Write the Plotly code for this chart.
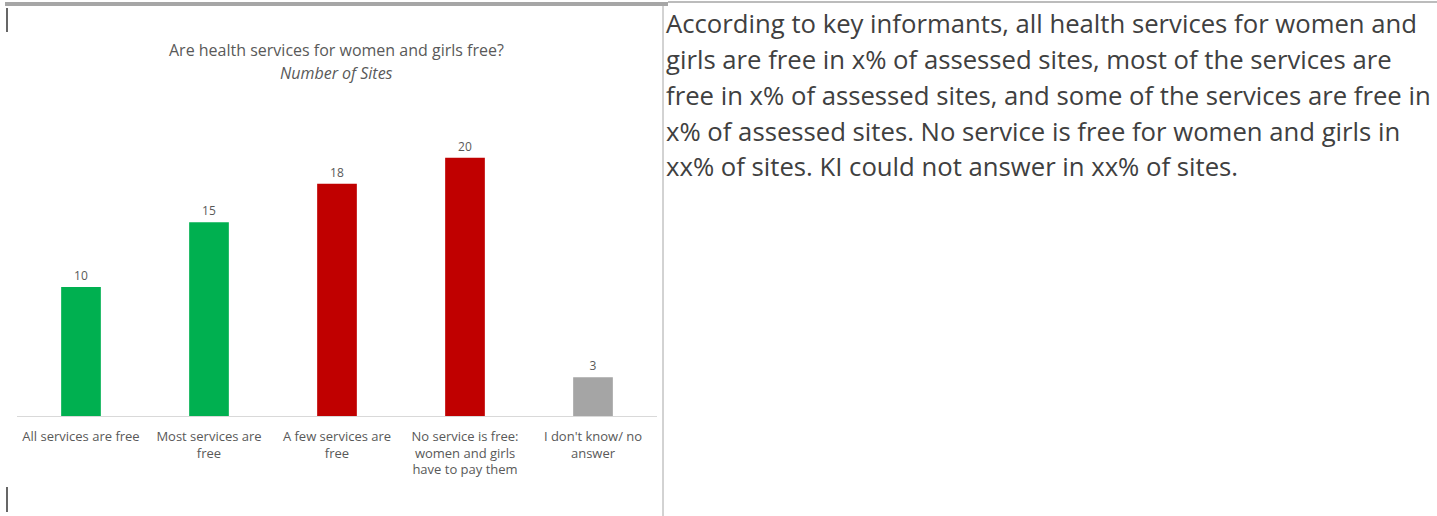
import plotly.graph_objects as go

# Chart data
categories = [
    "All services are free",
    "Most services are<br>free",
    "A few services are<br>free",
    "No service is free:<br>women and girls<br>have to pay them",
    "I don't know/ no<br>answer",
]
sites = [10, 15, 18, 20, 3]
bar_colors = ["#00B050", "#00B050", "#C00000", "#C00000", "#A5A5A5"]

title_text = "Are health services for women and girls free?"
subtitle_text = "Number of Sites"

side_lines = [
    "According to key informants, all health services for women and",
    "girls are free in x% of assessed sites, most of the services are",
    "free in x% of assessed sites, and some of the services are free in",
    "x% of assessed sites. No service is free for women and girls in",
    "xx% of sites. KI could not answer in xx% of sites.",
]

W, H = 1437, 516
FONT = "'Open Sans', sans-serif"
GREY_TXT = "#595959"


def px_x(x):
    return x / W


def px_y(y):
    return 1 - y / H


fig = go.Figure()

fig.add_trace(
    go.Bar(
        x=categories,
        y=sites,
        marker_color=bar_colors,
        marker_line_width=0,
        text=[str(v) for v in sites],
        textposition="outside",
        textfont=dict(size=12, color=GREY_TXT, family=FONT),
        cliponaxis=False,
        hoverinfo="skip",
    )
)

fig.update_layout(
    width=W,
    height=H,
    margin=dict(l=0, r=0, t=0, b=0),
    plot_bgcolor="white",
    paper_bgcolor="white",
    showlegend=False,
    bargap=0.69,
    font=dict(family=FONT, color=GREY_TXT),
    xaxis=dict(
        domain=[px_x(17), px_x(657)],
        showline=True,
        linecolor="#D9D9D9",
        linewidth=1,
        showgrid=False,
        ticks="",
        ticklabelstandoff=8,
        tickfont=dict(size=13, color=GREY_TXT, family=FONT),
        fixedrange=True,
    ),
    yaxis=dict(
        domain=[px_y(416), px_y(132)],
        range=[0, 22],
        visible=False,
        fixedrange=True,
    ),
)

# Chart title and subtitle
fig.add_annotation(
    x=px_x(336), y=px_y(50), xref="paper", yref="paper",
    xanchor="center", yanchor="middle",
    text=title_text, showarrow=False,
    font=dict(size=16, color=GREY_TXT, family=FONT),
)
fig.add_annotation(
    x=px_x(336), y=px_y(73), xref="paper", yref="paper",
    xanchor="center", yanchor="middle",
    text=f"<i>{subtitle_text}</i>", showarrow=False,
    font=dict(size=16, color=GREY_TXT, family=FONT),
)

# Side text, one line at a time
line_y = [24, 60, 95, 131, 166]
for txt, ly in zip(side_lines, line_y):
    fig.add_annotation(
        x=px_x(664), y=px_y(ly), xref="paper", yref="paper",
        xanchor="left", yanchor="middle", align="left",
        text=txt, showarrow=False,
        font=dict(size=25.7, color="#404040", family=FONT),
    )

# Table borders and cursors
shapes = [
    dict(type="line", xref="paper", yref="paper", x0=px_x(668), x1=1,
         y0=px_y(2), y1=px_y(2), line=dict(color="#A6A6A6", width=1.5)),
    dict(type="rect", xref="paper", yref="paper", x0=px_x(5), x1=px_x(668),
         y0=px_y(6), y1=px_y(2), fillcolor="#A6A6A6", line=dict(width=0)),
    dict(type="line", xref="paper", yref="paper", x0=px_x(663), x1=px_x(663),
         y0=0, y1=px_y(2), line=dict(color="#A6A6A6", width=1)),
    dict(type="line", xref="paper", yref="paper", x0=px_x(7), x1=px_x(7),
         y0=px_y(8), y1=px_y(32), line=dict(color="black", width=1.2)),
    dict(type="line", xref="paper", yref="paper", x0=px_x(7), x1=px_x(7),
         y0=px_y(487), y1=px_y(512), line=dict(color="black", width=1.2)),
]
fig.update_layout(shapes=shapes)

# page has a default 8px body margin; drop it so the figure fills the window
fig.write_html(
    "out.html",
    config={"displayModeBar": False},
    post_script="document.body.style.margin='0';",
)
